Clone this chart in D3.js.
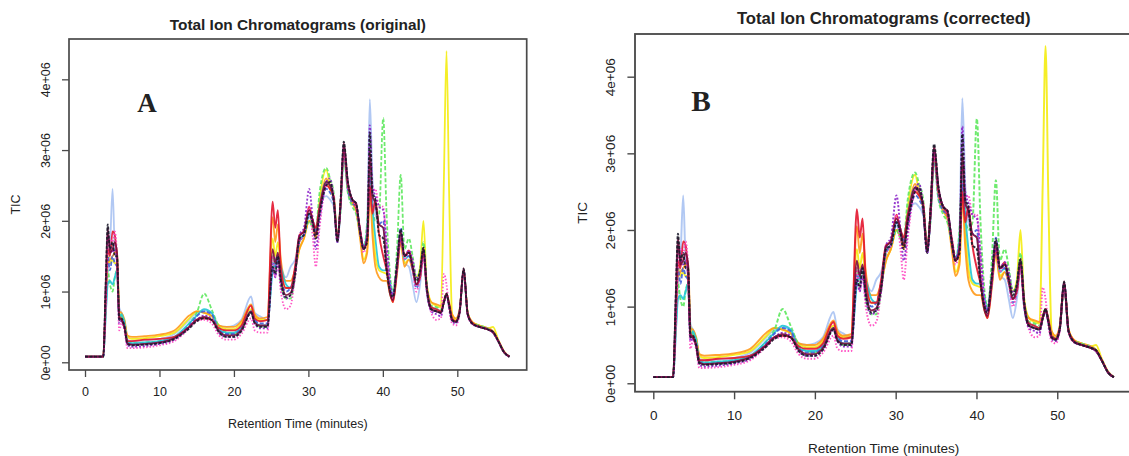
<!DOCTYPE html>
<html>
<head>
<meta charset="utf-8">
<script src="https://cdn.jsdelivr.net/npm/d3@7"></script>
<style>
  body { margin: 0; background: #fff; }
  svg { display: block; }
  text { font-family: "Liberation Sans", Arial, sans-serif; fill: #222; }
</style>
</head>
<body>
<div id="chart"></div>
<script>
// retention time grid (minutes)
const retentionTime = [
  0, 2.45, 2.8, 3.05, 3.35, 3.7, 4.0, 4.3, 4.6, 4.9, 5.3,
  5.7, 6.3, 8, 10, 12, 14, 15, 16, 17, 18, 19,
  20, 21, 22.3, 22.8, 23.5, 24.5, 25.2, 25.55, 25.9, 26.3, 27,
  27.6, 28.2, 28.8, 29.4, 30.1, 30.6, 31.0, 31.5, 32.4, 32.9, 33.4,
  33.9, 34.3, 34.75, 35.3, 35.9, 36.4, 37.0, 37.4, 37.9, 38.25, 38.6,
  39.0, 39.5, 40.05, 40.5, 41.0, 41.35, 41.9, 42.4, 42.9, 43.5, 44.0,
  44.5, 45.0, 45.45, 45.9, 46.5, 47.2, 47.8, 48.2, 48.55, 48.9, 49.3,
  49.8, 50.3, 50.85, 51.4, 52.1, 53, 54.2, 54.8, 55.5, 56.3, 57
];

// TIC per sample, in units of 1e6
const ticLightBlue = [
  .08,.08,.7,1.3,1.6,2.45,1.6,1.4,.77,.7,.58,
  .32,.3,.31,.33,.4,.6,.7,.72,.7,.52,.5,
  .52,.6,.93,.7,.65,.6,1.3,1.45,1.5,1.35,1.2,
  1.35,1.45,1.7,1.8,2.05,1.95,1.85,2.2,2.35,2.3,2.2,
  1.75,2.15,2.9,2.4,2.25,2.2,1.8,1.6,2.0,3.72,2.6,
  2.1,1.95,1.9,1.4,1.0,.95,1.35,1.85,1.4,1.35,1.1,
  .85,1.1,1.5,1.0,.75,.72,.7,.85,.95,.8,.6,
  .56,.7,1.28,.68,.54,.5,.46,.42,.3,.14,.08
];
const ticYellow = [
  .08,.08,.9,1.5,1.4,1.45,1.4,1.4,.7,.65,.55,
  .36,.33,.34,.37,.42,.62,.72,.7,.65,.52,.47,
  .47,.55,.75,.65,.6,.6,1.75,1.5,1.7,1.3,1.05,
  1.05,1.3,1.6,1.75,2.0,1.95,1.8,2.3,2.72,2.5,2.3,
  1.75,2.2,2.95,2.45,2.25,2.15,1.75,1.45,1.6,2.5,2.0,
  1.5,1.3,1.27,1.25,1.0,.95,1.3,1.7,1.4,1.45,1.35,
  1.2,1.35,2.0,1.1,.85,.8,.78,2.6,4.4,2.4,.68,
  .6,.72,1.28,.7,.56,.52,.48,.5,.32,.15,.08
];
const ticOrange = [
  .08,.08,.9,1.4,1.45,1.5,1.55,1.6,.72,.7,.6,
  .38,.36,.37,.39,.45,.66,.72,.7,.66,.52,.5,
  .5,.58,.82,.68,.62,.64,2.05,1.7,1.95,1.45,1.15,
  1.15,1.3,1.6,1.75,2.0,1.9,1.75,2.2,2.6,2.45,2.3,
  1.75,2.2,3.0,2.45,2.25,2.15,1.7,1.4,1.55,2.45,1.8,
  1.35,1.2,1.15,1.15,.95,.85,1.25,1.7,1.35,1.45,1.3,
  1.1,1.2,1.55,1.05,.85,.82,.8,.88,.97,.85,.68,
  .62,.74,1.3,.7,.56,.52,.48,.44,.31,.15,.08
];
const ticGreen = [
  .08,.08,.8,1.3,1.1,1.0,1.2,1.3,.7,.65,.58,
  .3,.27,.28,.3,.35,.55,.7,.97,.75,.5,.42,
  .4,.48,.7,.6,.5,.5,1.5,1.3,1.45,1.1,.9,
  .9,1.2,1.7,1.8,2.0,1.9,1.9,2.4,2.75,2.6,2.4,
  1.8,2.1,2.9,2.4,2.2,2.1,1.8,1.6,2.0,2.7,2.2,
  2.0,2.1,3.45,2.1,1.2,1.0,1.6,2.65,1.6,1.75,1.5,
  1.2,1.3,1.7,1.1,.8,.78,.75,.85,.97,.8,.62,
  .58,.72,1.25,.68,.55,.52,.47,.43,.3,.14,.08
];
const ticCyan = [
  .08,.08,.7,1.1,1.15,1.1,1.2,1.3,.6,.68,.55,
  .3,.27,.28,.3,.36,.55,.66,.75,.7,.46,.42,
  .42,.5,.72,.6,.52,.52,1.3,1.4,1.5,1.35,1.1,
  1.05,1.3,1.75,1.8,2.1,1.95,1.85,2.2,2.55,2.5,2.3,
  1.75,2.2,3.0,2.5,2.3,2.2,1.8,1.6,1.85,2.7,2.2,
  1.75,1.35,1.3,1.3,1.1,.95,1.3,1.8,1.45,1.5,1.35,
  1.1,1.25,1.6,1.05,.78,.75,.72,.85,.95,.8,.6,
  .57,.72,1.28,.68,.54,.5,.46,.42,.3,.14,.08
];
const ticBlue = [
  .08,.08,.95,1.5,1.3,1.5,1.4,1.35,.6,.6,.52,
  .28,.25,.26,.28,.35,.52,.65,.72,.68,.45,.4,
  .4,.48,.72,.6,.55,.55,1.4,1.35,1.45,1.2,1.0,
  1.05,1.3,1.7,1.8,2.1,2.0,1.85,2.1,2.45,2.4,2.25,
  1.7,2.15,2.95,2.45,2.25,2.2,1.85,1.65,1.8,2.6,2.2,
  2.2,1.95,2.0,1.45,1.0,.95,1.4,1.9,1.5,1.5,1.3,
  1.05,1.2,1.55,1.0,.75,.72,.7,.85,.95,.8,.62,
  .58,.72,1.3,.68,.54,.5,.46,.42,.3,.14,.08
];
const ticRed = [
  .08,.08,.9,1.6,1.5,1.85,1.8,1.4,.65,.6,.5,
  .3,.3,.32,.33,.36,.5,.6,.62,.6,.48,.45,
  .45,.52,.8,.62,.58,.6,2.27,1.9,2.15,1.35,1.05,
  1.05,1.35,1.8,1.85,2.2,2.0,1.9,2.2,2.5,2.45,2.35,
  1.75,2.2,3.0,2.5,2.3,2.2,1.85,1.6,1.75,2.5,2.1,
  2.3,1.8,1.5,1.3,1.0,.85,1.3,1.75,1.5,1.58,1.35,
  1.1,1.2,1.55,1.05,.78,.75,.72,.85,.95,.82,.62,
  .58,.72,1.3,.68,.55,.5,.46,.42,.3,.14,.08
];
const ticMagenta = [
  .08,.08,.85,1.6,1.75,1.7,1.85,1.5,.45,.55,.45,
  .2,.2,.21,.24,.3,.48,.58,.6,.55,.38,.32,
  .32,.4,.62,.45,.42,.42,1.5,1.2,1.4,1.0,.75,
  .8,1.2,1.7,1.8,2.2,1.75,1.35,1.9,2.5,2.55,2.3,
  1.7,2.2,3.0,2.5,2.3,2.2,1.8,1.55,1.75,2.8,2.4,
  2.45,2.2,2.2,1.6,1.05,.9,1.3,1.8,1.45,1.55,1.3,
  1.0,1.2,1.5,1.0,.7,.6,.62,1.25,1.1,.75,.55,
  .52,.68,1.25,.66,.53,.5,.46,.42,.3,.14,.08
];
const ticPurple = [
  .08,.08,1.1,1.8,1.65,1.55,1.6,1.45,.55,.58,.48,
  .24,.22,.23,.26,.32,.5,.6,.66,.62,.42,.36,
  .36,.45,.7,.55,.48,.48,1.35,1.2,1.4,1.1,.9,
  .95,1.2,1.8,1.9,2.45,2.0,1.6,2.0,2.55,2.6,2.3,
  1.7,2.2,3.05,2.55,2.3,2.25,1.8,1.6,1.8,3.35,2.5,
  2.35,2.2,2.15,1.7,1.1,.95,1.35,1.75,1.5,1.58,1.45,
  1.2,1.25,1.55,1.05,.72,.68,.65,.85,.95,.78,.58,
  .55,.7,1.3,.68,.54,.5,.46,.42,.3,.14,.08
];
const ticMaroon = [
  .08,.08,1.15,1.9,1.55,1.6,1.7,1.55,.62,.6,.5,
  .27,.25,.26,.28,.34,.5,.6,.64,.6,.44,.38,
  .38,.46,.72,.56,.52,.52,1.6,1.4,1.55,1.2,.95,
  .98,1.25,1.78,1.85,2.15,2.0,1.8,2.15,2.55,2.5,2.3,
  1.72,2.2,3.1,2.55,2.3,2.25,1.8,1.6,1.75,3.0,2.35,
  2.25,1.95,1.9,1.35,.95,.88,1.35,1.85,1.5,1.55,1.35,
  1.1,1.25,1.62,1.05,.75,.72,.7,.85,.97,.82,.6,
  .57,.7,1.33,.68,.54,.5,.46,.43,.3,.14,.08
];
const ticBlack = [
  .08,.08,1.2,1.95,1.6,1.7,1.5,1.5,.6,.62,.5,
  .26,.24,.25,.27,.33,.48,.58,.62,.6,.42,.36,
  .36,.44,.7,.55,.5,.5,1.35,1.25,1.5,1.15,.92,
  .95,1.25,1.75,1.8,2.1,1.95,1.75,2.1,2.5,2.55,2.3,
  1.7,2.25,3.12,2.55,2.3,2.25,1.8,1.6,1.7,3.25,2.4,
  2.3,1.8,1.75,1.3,1.0,.92,1.4,1.88,1.5,1.55,1.35,
  1.15,1.3,1.62,1.05,.75,.72,.7,.85,.97,.8,.6,
  .57,.7,1.32,.68,.54,.5,.46,.43,.3,.14,.08
];

const sampleSeries = [ticLightBlue, ticYellow, ticOrange, ticGreen, ticCyan, ticBlue,
  ticRed, ticMagenta, ticPurple, ticMaroon, ticBlack];
const sampleColors = ["#a9c2f2", "#f4ec10", "#ff9a1a", "#5ee85e", "#22c6d6", "#4060d8",
  "#e3152e", "#ff45c0", "#8a22c8", "#7a0c3c", "#1a1a2a"];
const sampleDash = ["none", "none", "none", "4,2", "none", "4,2",
  "none", "1.5,1.8", "2,1.8", "none", "3,1.5"];

const xTicks = [0, 10, 20, 30, 40, 50];
const yTicks = [0, 1, 2, 3, 4];
const yTickLabels = ["0e+00", "1e+06", "2e+06", "3e+06", "4e+06"];

const panels = [
  { title: "Total Ion Chromatograms (original)", tag: "A",
    left: 69, right: 526.7, top: 39, bottom: 370,
    xDom: [-2.15, 59.32], yDom: [-0.109, 4.57], k: 1,
    titleY: 30, xlabY: 428, ylabX: 16, tagX: 147, tagY: 112 },
  { title: "Total Ion Chromatograms (corrected)", tag: "B",
    left: 635, right: 1132.4, top: 34, bottom: 391.7,
    xDom: [-2.265, 59.3], yDom: [-0.11, 4.557], k: 1.084,
    titleY: 24, xlabY: 453, ylabX: 582, tagX: 701, tagY: 111 }
];

const svg = d3.select("#chart").append("svg")
  .attr("width", 1129).attr("height", 456);

panels.forEach((p, pi) => {
  const x = d3.scaleLinear().domain(p.xDom).range([p.left, p.right]);
  const y = d3.scaleLinear().domain(p.yDom).range([p.bottom, p.top]);
  const g = svg.append("g");

  g.append("clipPath").attr("id", "clip" + pi)
    .append("rect")
    .attr("x", p.left).attr("y", p.top)
    .attr("width", p.right - p.left).attr("height", p.bottom - p.top);

  const line = d3.line()
    .x((d, i) => x(retentionTime[i]))
    .y(d => y(d))
    .curve(d3.curveMonotoneX);

  const lines = g.append("g").attr("clip-path", `url(#clip${pi})`);
  sampleSeries.forEach((s, i) => {
    lines.append("path")
      .datum(s)
      .attr("d", line)
      .attr("fill", "none")
      .attr("stroke", sampleColors[i])
      .attr("stroke-width", 1.8 * p.k)
      .attr("stroke-dasharray", sampleDash[i])
      .attr("stroke-linejoin", "round")
      .attr("opacity", 0.9);
  });

  // box
  g.append("rect")
    .attr("x", p.left).attr("y", p.top)
    .attr("width", p.right - p.left).attr("height", p.bottom - p.top)
    .attr("fill", "none").attr("stroke", "#4a4a4a").attr("stroke-width", 1.7 * p.k);

  const fs = 12.5 * p.k;

  const xAxis = g.append("g")
    .attr("transform", `translate(0,${p.bottom})`)
    .call(d3.axisBottom(x).tickValues(xTicks).tickSize(7 * p.k).tickFormat(d3.format("d")));
  xAxis.select(".domain").remove();
  xAxis.selectAll("line").attr("stroke", "#4a4a4a").attr("stroke-width", 1.3 * p.k);
  xAxis.selectAll("text")
    .attr("y", 22 * p.k).attr("dy", "0.35em")
    .style("font-size", fs + "px").attr("fill", "#222");

  const yAxis = g.append("g")
    .attr("transform", `translate(${p.left},0)`)
    .call(d3.axisLeft(y).tickValues(yTicks).tickSize(7 * p.k)
      .tickFormat((d, i) => yTickLabels[i]));
  yAxis.select(".domain").remove();
  yAxis.selectAll("line").attr("stroke", "#4a4a4a").attr("stroke-width", 1.3 * p.k);
  yAxis.selectAll("text")
    .attr("x", 0).attr("y", 0).attr("dy", "0.35em")
    .attr("text-anchor", "middle")
    .attr("transform", `translate(${-23 * p.k},0) rotate(-90)`)
    .style("font-size", fs + "px").attr("fill", "#222");

  const cx = (p.left + p.right) / 2;
  g.append("text")
    .attr("x", cx).attr("y", p.titleY)
    .attr("text-anchor", "middle")
    .style("font-size", (15.4 * p.k) + "px").style("font-weight", "bold")
    .text(p.title);

  g.append("text")
    .attr("x", cx).attr("y", p.xlabY)
    .attr("text-anchor", "middle")
    .style("font-size", fs + "px")
    .text("Retention Time (minutes)");

  g.append("text")
    .attr("transform", `translate(${p.ylabX},${(p.top + p.bottom) / 2}) rotate(-90)`)
    .attr("dy", "0.35em")
    .attr("text-anchor", "middle")
    .style("font-size", fs + "px")
    .text("TIC");

  g.append("text")
    .attr("x", p.tagX).attr("y", p.tagY)
    .attr("text-anchor", "middle")
    .style("font-family", "'Liberation Serif', 'Times New Roman', serif")
    .style("font-size", (27 * p.k) + "px").style("font-weight", "bold")
    .attr("fill", "#000")
    .text(p.tag);
});
</script>
</body>
</html>
